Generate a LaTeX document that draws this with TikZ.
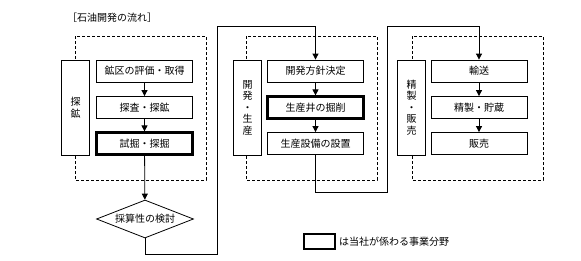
\documentclass[tikz,border=0pt]{standalone}
\usepackage{fontspec}
\setmainfont{Noto Sans CJK JP}
\usetikzlibrary{arrows.meta,shapes.geometric}
\tikzset{
  mainbox/.style={draw,line width=0.8pt,fill=white,minimum width=96pt,minimum height=22pt,inner sep=0pt,font=\fontsize{10}{12}\selectfont},
  keybox/.style={mainbox,line width=2.2pt},
  sidebox/.style={draw,line width=0.8pt,fill=white,minimum width=28pt,minimum height=95pt,inner sep=0pt,align=center,font=\fontsize{10}{11.5}\selectfont},
  dashbox/.style={draw,line width=0.8pt,dash pattern=on 3pt off 2pt},
  arr/.style={line width=0.8pt,-{Triangle[length=6pt,width=6pt]}},
  ln/.style={line width=0.8pt},
  dia/.style={draw,diamond,aspect=2.55,line width=0.8pt,minimum width=97pt,minimum height=38pt,inner sep=0pt,font=\fontsize{10}{12}\selectfont},
  lbl/.style={font=\fontsize{10}{12}\selectfont,inner sep=0pt}
}
\begin{document}
\begin{tikzpicture}[x=1pt,y=-1pt]
\useasboundingbox (0,0) rectangle (581,260);
% title
\node[lbl,anchor=west] (title) at (67,18) {［石油開発の流れ］};
% dashed groups
\draw[dashbox] (75,36) rectangle (206,180);
\draw[dashbox] (246,36) rectangle (377,180);
\draw[dashbox] (412,36) rectangle (543,180);
% column 1
\node[sidebox] (s1) at (75.5,107.5) {探\\鉱};
\node[mainbox] (a1) at (144.5,71) {鉱区の評価・取得};
\node[mainbox] (a2) at (144.5,107.5) {探査・探鉱};
\node[keybox] (a3) at (144.5,143.5) {試掘・探掘};
\node[dia] (d) at (145,219) {採算性の検討};
% column 2
\node[sidebox] (s2) at (247.5,107.5) {開\\発\\・\\生\\産};
\node[mainbox] (b1) at (315.5,71) {開発方針決定};
\node[keybox] (b2) at (315.5,107.5) {生産井の掘削};
\node[mainbox] (b3) at (315.5,143.5) {生産設備の設置};
% column 3
\node[sidebox] (s3) at (411.5,107.5) {精\\製\\・\\販\\売};
\node[mainbox] (c1) at (479,71) {輸送};
\node[mainbox] (c2) at (479,107.5) {精製・貯蔵};
\node[mainbox] (c3) at (479,143.5) {販売};
% legend
\node[draw,line width=2.2pt,minimum width=31pt,minimum height=15pt,inner sep=0pt] (lg) at (319.5,241.5) {};
\node[lbl,anchor=west] (lgt) at (339,242) {は当社が係わる事業分野};
% connectors
\draw[arr] (a1) -- (a2);
\draw[arr] (a2) -- (a3);
\draw[arr] (a3) -- (d);
\draw[arr] (b1) -- (b2);
\draw[arr] (b2) -- (b3);
\draw[arr] (c1) -- (c2);
\draw[arr] (c2) -- (c3);
\coordinate (j1) at (145,254);
\coordinate (j2) at (217,254);
\coordinate (j3) at (217,26);
\coordinate (j4) at (315.5,26);
\draw[arr] (d.south) -- (j1) -- (j2) -- (j3) -- (j4) -- (b1.north);
\coordinate (k1) at (315.5,192);
\coordinate (k2) at (387,192);
\coordinate (k3) at (387,26);
\coordinate (k4) at (479,26);
\draw[arr] (b3.south) -- (k1) -- (k2) -- (k3) -- (k4) -- (c1.north);
\end{tikzpicture}
\end{document}
